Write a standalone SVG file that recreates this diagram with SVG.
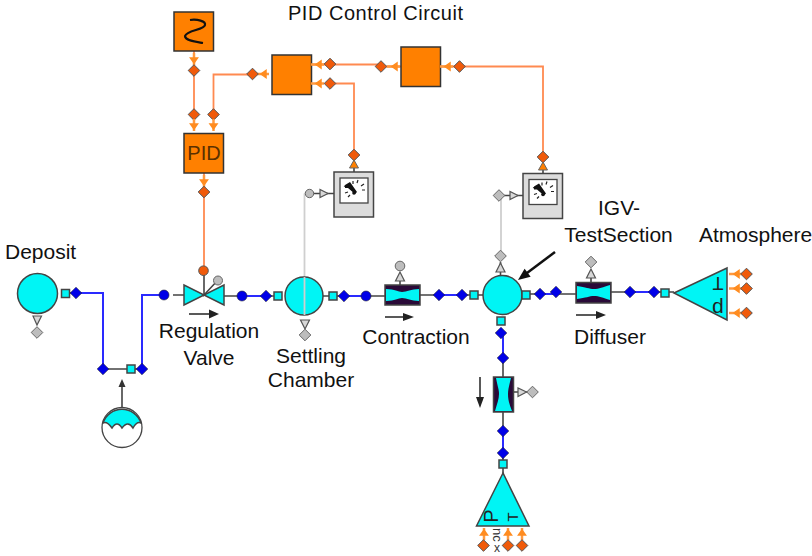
<svg xmlns="http://www.w3.org/2000/svg" width="812" height="556" viewBox="0 0 812 556">
<style>
text{font-family:"Liberation Sans",Arial,sans-serif;fill:#111}
.lb{font-size:21px}
.m{text-anchor:middle}
.st{fill:none;stroke:#444;stroke-width:1.6}
.bl{fill:none;stroke:#2a2aff;stroke-width:2}
.or{fill:none;stroke:#ff8a50;stroke-width:1.8}
.gr{fill:none;stroke:#cfcfcf;stroke-width:1.8}
.cy{fill:#00f5f5;stroke:#444;stroke-width:1.5}
.ob{fill:#ff8000;stroke:#333;stroke-width:1.5}
.gb{fill:#dcdcdc;stroke:#444;stroke-width:1.5}
.sc{fill:#fff;stroke:#444;stroke-width:1.3}
.nd{fill:#0000e8;stroke:#223;stroke-width:.6;stroke-linejoin:round}
.od{fill:#f05a0a;stroke:#555;stroke-width:1;stroke-linejoin:round}
.gd{fill:#bdbdbd;stroke:#666;stroke-width:1;stroke-linejoin:round}
.pu{fill:#2a0a38}
.tick{fill:none;stroke:#222;stroke-width:1.2}
.oa{stroke:#ff8c20;stroke-width:1.5;fill:#ff8c20}
.ol{fill:none;stroke:#ff9a40;stroke-width:2.5}
.ga{fill:#d8d8d8;stroke:#555;stroke-width:1.2}
</style>
<defs>
<path id="sm" d="M-5.800 0L0-5.800L5.800 0L0 5.800Z"/>
<rect id="sq" x="-4" y="-4" width="8" height="8" class="cy"/>
<g id="oarrD"><path class="ol" d="M0-6V6"/><path class="oa" d="M-3.500-1H3.500L0 4Z"/></g>
<g id="oarrL"><path class="ol" d="M-7 0H6"/><path class="oa" d="M3-3.500V3.500L-2 0Z"/></g>
<g id="gauge">
<rect x="0" y="0" width="39.500" height="45" class="gb"/>
<rect x="6" y="6" width="28" height="25" class="sc"/>
<path class="tick" d="M10 14l3 1M11 21l3-1M14 25l2-2M19 9l0 3M24 8l-1 3M30 12l-3 2M31 18l-3 0"/>
<path d="M11 13l5-3 7 10-2 2-7-6-3 0Z" fill="#111"/>
<circle cx="20" cy="21" r="1.800" fill="#111"/>
</g>
</defs>

<g id="connectors">
<path class="or" d="M194 51V114M213.500 114V74.500H252M311 64.500H381M381 66.500H401M440 66.500H543V157M330 83.500H354V155M204 173V270"/>
<path class="gr" d="M304.500 193.500V296M310 193.500H304.500M501 196V255"/>
<path class="bl" d="M76 293H103V369M142 369V295H164M242 296H266M344 296H366M439 295H462M540 294H556M630 292H654M503 334V358M503 431V453"/>
<path class="st" d="M70 293H76M103 369H127M142 369H135M122 408V384M173 295H184M224 296H242M266 296H274M323 296H329M337 296H344M366 296H385M420 295H439M462 295H470M478 295H483M521 295H522M530 294H540M556 294H576M611 292H630M654 292H661M669 292H674M503 358V377M503 412V431M503 453V460M503 468V473M513 392H519M526 392H529M204 270V295L218 280M354 155V172M543 157V173M500.500 262V275M313 193.500H334M504 195.500H523"/>
<path d="M122 379L118.500 387H125.500Z" fill="#333"/>
</g>

<g id="source"><rect x="174" y="12" width="39.500" height="39" class="ob"/>
<path d="M190 20C197 19 206 21 205 25C204 30 187 30 185 36C185 41 197 42 203 43" fill="none" stroke="#111" stroke-width="2.200"/>
<use href="#oarrD" x="194" y="59"/><use href="#sm" x="194" y="70.500" class="od"/></g>

<g id="pid"><rect x="184" y="133.500" width="39.500" height="39.500" class="ob"/>
<text x="204" y="160" class="m" font-size="20" style="fill:#5a3000">PID</text>
<use href="#sm" x="194" y="114.500" class="od"/><use href="#oarrD" x="194" y="125"/>
<use href="#sm" x="213.500" y="114.500" class="od"/><use href="#oarrD" x="213.500" y="125"/>
<use href="#oarrD" x="204" y="181"/><use href="#sm" x="204" y="192" class="od"/></g>

<g id="sum1"><rect x="272" y="55" width="39.500" height="39.500" class="ob"/>
<use href="#oarrL" x="263" y="74"/><use href="#sm" x="252.500" y="74" class="od"/>
<use href="#oarrL" x="318" y="64.500"/><use href="#sm" x="330" y="64" class="od"/>
<use href="#oarrL" x="318" y="83.500"/><use href="#sm" x="330" y="83.500" class="od"/></g>

<g id="sum2"><rect x="401" y="47" width="39.500" height="39.500" class="ob"/>
<use href="#sm" x="381" y="66.500" class="od"/><use href="#oarrL" x="394" y="66.500"/>
<use href="#oarrL" x="447" y="66.500"/><use href="#sm" x="459.500" y="66.500" class="od"/></g>

<g id="gauge1"><use href="#gauge" x="334" y="172"/>
<use href="#sm" x="354" y="155" class="od"/><path d="M354 160L349.500 168H358.500Z" fill="#ff8000" stroke="#666"/>
<circle cx="309.500" cy="193.500" r="4.200" class="gd"/><path class="ga" d="M320 189.500V197.500L328 193.500Z"/></g>

<g id="gauge2"><use href="#gauge" x="523" y="173.500"/>
<use href="#sm" x="543" y="157" class="od"/><path d="M543 162L538.500 170H547.500Z" fill="#ff8000" stroke="#666"/>
<use href="#sm" x="499" y="195.500" class="gd"/><path class="ga" d="M510 191.500V199.500L518 195.500Z"/></g>

<g id="deposit"><circle cx="37.500" cy="293.500" r="20" class="cy"/>
<use href="#sq" x="65.500" y="293.500"/><use href="#sm" x="76" y="293" class="nd"/>
<path class="ga" d="M33 316H41.500L37 325Z"/><use href="#sm" x="37" y="332.500" class="gd"/></g>

<g id="junction"><use href="#sm" x="103" y="369" class="nd"/><use href="#sq" x="131" y="369"/><use href="#sm" x="142" y="369" class="nd"/></g>

<g id="tank"><circle cx="122" cy="427.500" r="20" class="sc" stroke-width="1.600"/>
<path d="M103 423A20 20 0 0 1 141 423Q137 421 133 428Q128 420 122 428Q117 420 112 428Q107 421 103 423Z" class="cy"/></g>

<g id="valve"><circle cx="164" cy="295" r="5" class="nd"/>
<path d="M184 285V305L224 285V305Z" class="cy"/>
<circle cx="203.500" cy="270.700" r="4.800" fill="#f05a0a" stroke="#555"/>
<circle cx="218" cy="280.500" r="4.500" class="gd"/></g>

<g id="settling"><circle cx="304" cy="296" r="19" class="cy"/><use href="#sq" x="278" y="296"/><use href="#sq" x="333" y="296"/>
<path class="gr" d="M304.500 277V315"/><circle cx="242" cy="296" r="5" class="nd"/><use href="#sm" x="266" y="296" class="nd"/><use href="#sm" x="344" y="296" class="nd"/>
<path class="ga" d="M300.500 320H309.500L305 329Z"/><use href="#sm" x="305" y="335" class="gd"/></g>

<g id="contraction"><circle cx="366" cy="296" r="5" class="nd"/>
<rect x="385" y="285" width="35" height="20" class="pu" stroke="#444" stroke-width="1.500"/>
<path d="M386 289C395 289 398 292 402 292C407 292 411 289 419 289V301C411 301 407 298 402 298C398 298 395 301 386 301Z" fill="#00f5f5"/>
<path class="st" d="M400 285V278"/><path class="ga" d="M400 272L395.500 281H404.500Z"/><circle cx="400" cy="266" r="4.800" class="gd"/><use href="#sm" x="439" y="295" class="nd"/></g>

<g id="igv"><circle cx="502.500" cy="295" r="19.500" class="cy"/>
<use href="#sq" x="474" y="295"/><use href="#sq" x="526" y="295"/><use href="#sq" x="501" y="321"/>
<use href="#sm" x="462" y="295" class="nd"/><use href="#sm" x="540" y="294" class="nd"/><use href="#sm" x="556" y="292" class="nd"/><use href="#sm" x="501" y="333" class="nd"/>
<path class="ga" d="M500.500 263L496 272H505Z"/><use href="#sm" x="500.500" y="256" class="gd"/></g>

<g id="diffuser"><rect x="576" y="282.500" width="35" height="20.500" class="pu" stroke="#444" stroke-width="1.500"/>
<path d="M577 286C586 287 589 289 594 289C599 289 603 287 610 285V300C603 298 599 296 594 296C589 296 586 298 577 299Z" fill="#00f5f5"/>
<path class="st" d="M591 282V275"/><path class="ga" d="M591 269L586.500 278H595.500Z"/><use href="#sm" x="591" y="262" class="gd"/>
<use href="#sm" x="630" y="292" class="nd"/></g>

<g id="atmosphere"><use href="#sm" x="654" y="292" class="nd"/><use href="#sq" x="665" y="293"/>
<path d="M674 293L727 268V320Z" class="cy"/>
<text transform="translate(718 277) rotate(180)" font-size="18" class="m" style="fill:#222">T</text>
<text transform="translate(718 302) rotate(180)" font-size="21" class="m" style="fill:#222">p</text>
<use href="#oarrL" x="736" y="274"/><use href="#sm" x="746.500" y="274" class="od"/>
<use href="#oarrL" x="736" y="288.500"/><use href="#sm" x="746.500" y="288.500" class="od"/>
<use href="#oarrL" x="736" y="313"/><use href="#sm" x="746.500" y="313" class="od"/></g>

<g id="branch"><use href="#sm" x="503" y="358" class="nd"/>
<rect x="493.500" y="377" width="20" height="35" class="pu" stroke="#444" stroke-width="1.500"/>
<path d="M496 378C498 388 499 390 499 394C499 399 497 404 495 411H512C509 404 508 399 508 394C508 390 509 386 511 378Z" fill="#00f5f5"/>
<path class="ga" d="M518 388V396.500L526.500 392Z"/><use href="#sm" x="532.500" y="392" class="gd"/>
<use href="#sm" x="503" y="431" class="nd"/><use href="#sm" x="503" y="453" class="nd"/><use href="#sq" x="503" y="464"/></g>

<g id="outlet"><path d="M503 473L476.500 526H529Z" class="cy"/>
<text transform="translate(498 516) rotate(-90)" font-size="20" class="m" style="fill:#222">P</text>
<text transform="translate(518 517) rotate(-90)" font-size="15" class="m" style="fill:#222">T</text>
<text transform="translate(493 528) rotate(90)" font-size="13" style="fill:#333">nc</text>
<text x="497" y="552" font-size="12" class="m" style="fill:#333">x</text>
<g transform="translate(484 534) rotate(180)"><use href="#oarrD"/></g><use href="#sm" x="483.500" y="545.500" class="od"/>
<g transform="translate(508 534) rotate(180)"><use href="#oarrD"/></g><use href="#sm" x="508" y="545.500" class="od"/>
<g transform="translate(522 534) rotate(180)"><use href="#oarrD"/></g><use href="#sm" x="522" y="545.500" class="od"/></g>

<g id="notes">
<path d="M189 314H213" stroke="#222" stroke-width="1.500"/><path d="M209 309.500L219 314L209 318.500Z" fill="#222"/>
<path d="M385 317H408" stroke="#222" stroke-width="1.500"/><path d="M403 313L414 317L403 321Z" fill="#222"/>
<path d="M576 315H600" stroke="#222" stroke-width="1.500"/><path d="M596 311L606 315L596 319Z" fill="#222"/>
<path d="M480 377V401" stroke="#222" stroke-width="1.500"/><path d="M476 397L480 408L484 397Z" fill="#222"/>
<path d="M555 252L527 273" stroke="#111" stroke-width="2.500"/><path d="M518 280L530.600 276.800L524.600 268.800Z" fill="#111"/>
</g>

<g id="labels">
<text x="288" y="20" font-size="20" textLength="175">PID Control Circuit</text>
<text x="5" y="259" class="lb">Deposit</text>
<text x="209" y="338" class="lb m">Regulation</text><text x="209" y="365" class="lb m">Valve</text>
<text x="311" y="363" class="lb m">Settling</text><text x="311" y="387" class="lb m">Chamber</text>
<text x="416" y="344" class="lb m">Contraction</text>
<text x="610" y="344" class="lb m">Diffuser</text>
<text x="619" y="215" class="lb m">IGV-</text><text x="618.500" y="242" class="lb m">TestSection</text>
<text x="699" y="242" class="lb">Atmosphere</text>
</g>
</svg>
